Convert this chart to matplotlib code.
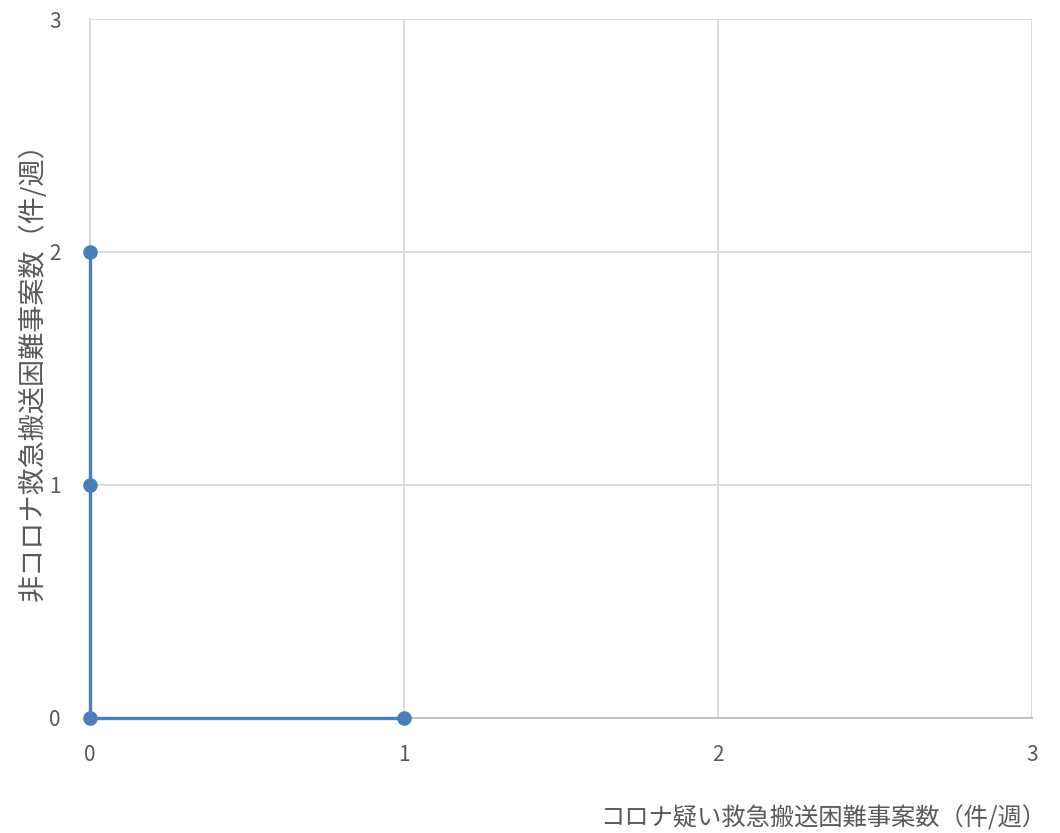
import matplotlib
matplotlib.use("Agg")
import matplotlib.pyplot as plt

plt.rcParams['font.family'] = ['Noto Sans CJK JP', 'DejaVu Sans']

# data
x_values = [0, 0, 0, 1]
y_values = [2, 1, 0, 0]
ticks = [0, 1, 2, 3]
x_label = "コロナ疑い救急搬送困難事案数（件/週）"
y_label = "非コロナ救急搬送困難事案数（件/週）"

line_color = "#4A7EBB"
text_color = "#595959"
grid_color = "#D9D9D9"

fig = plt.figure(figsize=(10.6, 8.33), dpi=100)
ax = fig.add_axes([90 / 1060, 1 - 718 / 833, (1032 - 90) / 1060, (718 - 19) / 833])

ax.plot(x_values, y_values, color=line_color, linewidth=2.4, marker="o",
        markersize=10.5, markeredgewidth=0, zorder=3, clip_on=False)

ax.set_xlim(0, 3)
ax.set_ylim(0, 3)
ax.set_xticks(ticks)
ax.set_yticks(ticks)
ax.grid(True, color=grid_color, linewidth=1.3)
ax.set_axisbelow(True)

for side in ["top", "right"]:
    ax.spines[side].set_visible(False)
ax.spines["left"].set_color(grid_color)
ax.spines["left"].set_linewidth(1.3)
ax.spines["bottom"].set_color("#BFBFBF")
ax.spines["bottom"].set_linewidth(1.3)

ax.tick_params(length=0, labelsize=15, colors=text_color)
ax.tick_params(axis="x", pad=19)
ax.tick_params(axis="y", pad=21)

fig.text(33 / 1060, 1 - 365 / 833, y_label, fontsize=19.5, color=text_color,
         rotation=90, ha="center", va="center")
fig.text(1046 / 1060, 1 - 818 / 833, x_label, fontsize=17.5, color=text_color,
         ha="right", va="center")

fig.savefig("out.png", dpi=100)
